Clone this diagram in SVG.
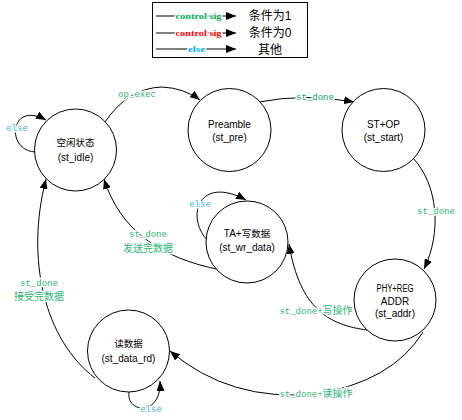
<svg xmlns="http://www.w3.org/2000/svg" width="462" height="420" viewBox="0 0 462 420">
<style>
.node circle{fill:#fff;stroke:#000;stroke-width:1}
.nt{font-family:"Liberation Sans","Noto Sans CJK SC",sans-serif;font-size:10px;fill:#000;text-anchor:middle}
.cj{font-size:9.5px}
.edge path{fill:none;stroke:#000;stroke-width:1}
.el{font-family:"Liberation Mono","Noto Sans CJK SC",monospace;font-size:9px;fill:#2bb673;text-anchor:middle;paint-order:stroke;stroke:#fff;stroke-width:3px;stroke-linejoin:round}
.else{fill:#3cb4e6}
.zh{font-size:10px}
.lg{font-family:"Liberation Serif",serif;font-size:7.5px;font-weight:bold;text-anchor:middle;paint-order:stroke;stroke:#fff;stroke-width:2px}
.lt{font-family:"Liberation Sans","Noto Sans CJK SC",sans-serif;font-size:12px;fill:#000;text-anchor:middle}
</style>
<defs>
<marker id="ah" viewBox="0 0 10 8" refX="10" refY="4" markerWidth="10" markerHeight="8" markerUnits="userSpaceOnUse" orient="auto">
<path d="M0,0 L10,4 L0,8 Z" fill="#000"/>
</marker>
</defs>
<rect width="462" height="420" fill="#fff"/>
<g id="legend">
<rect x="152.5" y="2.5" width="155" height="55" fill="#fff" stroke="#000"/>
<line x1="156" y1="16" x2="236" y2="16" stroke="#000" marker-end="url(#ah)"/>
<text class="lg" x="198.5" y="18.5" fill="#00b050" textLength="46" lengthAdjust="spacingAndGlyphs">control sig</text>
<line x1="156" y1="33" x2="236" y2="33" stroke="#555" stroke-width="1.3" marker-end="url(#ah)"/>
<text class="lg" x="198.5" y="35.5" fill="#ff0000" textLength="46" lengthAdjust="spacingAndGlyphs">control sig</text>
<line x1="156" y1="49" x2="236" y2="49" stroke="#000" marker-end="url(#ah)"/>
<text class="lg" x="196.5" y="51.5" fill="#00b0f0" textLength="17" lengthAdjust="spacingAndGlyphs">else</text>
<text class="lt" x="270" y="20">条件为1</text>
<text class="lt" x="270" y="37">条件为0</text>
<text class="lt" x="270" y="54">其他</text>
</g>
<g id="connectors" class="edge">
<path d="M105,122 Q128,88 162,87 Q184,88 200,100" marker-end="url(#ah)"/>
<path d="M259,102 Q305,93 354,102" marker-end="url(#ah)"/>
<path d="M413,158 C438,185 442,232 424,269" marker-end="url(#ah)"/>
<path d="M367,330 C330,325 300,310 289,244" marker-end="url(#ah)"/>
<path d="M423,332 Q392,382 315,394 Q230,402 170,351" marker-end="url(#ah)"/>
<path d="M221,270 C160,258 120,230 104,179" marker-end="url(#ah)"/>
<path d="M95,378 C45,340 25,260 46,179" marker-end="url(#ah)"/>
<path d="M35,152 C5,150 10,100 46,120" marker-end="url(#ah)"/>
<path d="M207,240 C185,215 200,175 246,200" marker-end="url(#ah)"/>
<path d="M129,392 C126,414 162,416 160,381" marker-end="url(#ah)"/>
<text class="el" x="137" y="97">op_exec</text>
<text class="el" x="315" y="100" style="fill:#00a651">st_done</text>
<text class="el" x="436" y="214">st_done</text>
<text class="el" x="148" y="237">st_done</text>
<text class="el zh" x="148" y="252">发送完数据</text>
<text class="el" x="39" y="286">st_done</text>
<text class="el zh" x="39" y="300">接受完数据</text>
<text class="el" x="316" y="314">st_done+<tspan class="zh">写操作</tspan></text>
<text class="el" x="316" y="397">st_done+<tspan class="zh">读操作</tspan></text>
<text class="el else" x="17" y="131">else</text>
<text class="el else" x="200" y="207">else</text>
<text class="el else" x="151" y="412">else</text>
</g>
<g id="st_idle" class="node">
<circle cx="75.5" cy="150" r="41"/>
<text class="nt cj" x="75.5" y="145.5">空闲状态</text>
<text class="nt" x="75.5" y="160.5">(st_idle)</text>
</g>
<g id="st_pre" class="node">
<circle cx="229.5" cy="130" r="41.5"/>
<text class="nt" x="229.5" y="127.5">Preamble</text>
<text class="nt" x="229.5" y="140.5">(st_pre)</text>
</g>
<g id="st_start" class="node">
<circle cx="383.5" cy="130" r="41.5"/>
<text class="nt" x="383.5" y="127.5">ST+OP</text>
<text class="nt" x="383.5" y="140.5">(st_start)</text>
</g>
<g id="st_wr_data" class="node">
<circle cx="247" cy="242" r="41"/>
<text class="nt" x="247" y="236.5">TA+<tspan class="cj">写数据</tspan></text>
<text class="nt" x="247" y="250.5">(st_wr_data)</text>
</g>
<g id="st_addr" class="node">
<circle cx="395" cy="300" r="41"/>
<text class="nt" x="395" y="291.5" textLength="37" lengthAdjust="spacingAndGlyphs">PHY+REG</text>
<text class="nt" x="395" y="304.5">ADDR</text>
<text class="nt" x="395" y="316.5">(st_addr)</text>
</g>
<g id="st_data_rd" class="node">
<circle cx="128.5" cy="351" r="41"/>
<text class="nt cj" x="128.5" y="346.5">读数据</text>
<text class="nt" x="128.5" y="361.5">(st_data_rd)</text>
</g>
</svg>
